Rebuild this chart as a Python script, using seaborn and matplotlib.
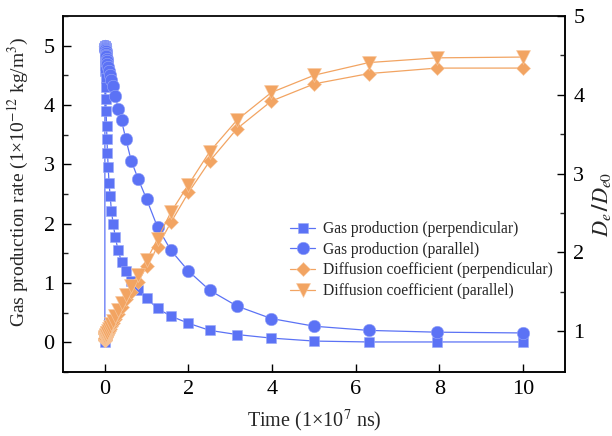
import numpy as np
import pandas as pd
import seaborn as sns
import matplotlib.pyplot as plt

# time (1e7 ns), log spaced 10 per decade plus t = 0
time = [0, 0.001, 0.00126, 0.00158, 0.002, 0.00251, 0.00316, 0.00398, 0.00501, 0.00631, 0.00794,
        0.01, 0.0126, 0.0158, 0.02, 0.0251, 0.0316, 0.0398, 0.0501, 0.0631, 0.0794,
        0.1, 0.126, 0.158, 0.2, 0.251, 0.316, 0.398, 0.501, 0.631, 0.794,
        1.0, 1.26, 1.58, 2.0, 2.51, 3.16, 3.98, 5.01, 6.31, 7.94, 10.0]

gas_perp = [0, 5.0, 4.99, 4.98, 4.97, 4.95, 4.93, 4.9, 4.86, 4.81, 4.75,
            4.67, 4.57, 4.45, 4.3, 4.1, 3.9, 3.65, 3.43, 3.2, 2.95,
            2.69, 2.47, 2.21, 1.99, 1.77, 1.55, 1.36, 1.2, 1.03, 0.88,
            0.74, 0.57, 0.44, 0.32, 0.2, 0.13, 0.07, 0.02, 0.005, 0.005, 0.005]

gas_para = [5.0, 5.0, 5.0, 5.0, 4.99, 4.99, 4.99, 4.98, 4.98, 4.97, 4.96,
            4.95, 4.93, 4.91, 4.88, 4.85, 4.82, 4.78, 4.74, 4.69, 4.64,
            4.58, 4.5, 4.42, 4.33, 4.16, 3.94, 3.74, 3.43, 3.06, 2.76,
            2.41, 1.94, 1.55, 1.2, 0.875, 0.61, 0.4, 0.27, 0.2, 0.17, 0.157]

diff_perp = [0.89, 0.89, 0.89, 0.89, 0.89, 0.89, 0.9, 0.9, 0.9, 0.9, 0.91,
             0.91, 0.91, 0.92, 0.92, 0.93, 0.94, 0.95, 0.96, 0.97, 0.98,
             1.0, 1.03, 1.06, 1.1, 1.15, 1.22, 1.3, 1.4, 1.5, 1.62,
             1.82, 2.07, 2.38, 2.76, 3.16, 3.57, 3.92, 4.14, 4.27, 4.34, 4.34]

diff_para = [0.89, 0.89, 0.89, 0.89, 0.89, 0.89, 0.9, 0.9, 0.9, 0.9, 0.91,
             0.91, 0.92, 0.92, 0.93, 0.94, 0.95, 0.96, 0.97, 0.98, 1.0,
             1.02, 1.05, 1.09, 1.13, 1.19, 1.27, 1.36, 1.46, 1.57, 1.71,
             1.9, 2.17, 2.51, 2.86, 3.28, 3.68, 4.03, 4.25, 4.41, 4.47, 4.48]

labels = ['Gas production (perpendicular)', 'Gas production (parallel)',
          'Diffusion coefficient (perpendicular)', 'Diffusion coefficient (parallel)']

blue = '#5b72f5'
orange = '#f2a462'

sns.set_theme(style='ticks')
plt.rcParams['font.family'] = ['Liberation Serif', 'DejaVu Serif']
plt.rcParams['mathtext.fontset'] = 'stix'

fig = plt.figure(figsize=(6.12, 4.36), dpi=100)
ax = fig.add_axes([0.103, 0.147, 0.82, 0.816])
ax2 = ax.twinx()

df = pd.DataFrame({'time': time, 'gp': gas_perp, 'gpa': gas_para,
                   'dp': diff_perp, 'dpa': diff_para})

common = dict(estimator=None, sort=False, linewidth=0.9, markeredgewidth=0.4)
sns.lineplot(data=df, x='time', y='gp', ax=ax, color=blue, marker='s', markersize=7,
             markeredgecolor='#9aa8f8', label=labels[0], **common)
sns.lineplot(data=df, x='time', y='gpa', ax=ax, color=blue, marker='o', markersize=9,
             markeredgecolor='#9aa8f8', label=labels[1], **common)
sns.lineplot(data=df, x='time', y='dp', ax=ax2, color=orange, marker='D', markersize=7.5,
             markeredgecolor='#f8c9a0', label=labels[2], **common)
sns.lineplot(data=df, x='time', y='dpa', ax=ax2, color=orange, marker='v', markersize=9.5,
             markeredgecolor='#f8c9a0', label=labels[3], **common)

ax.set_xlim(-1, 11)
ax.set_ylim(-0.5, 5.5)
ax2.set_ylim(0.48, 5.0)
ax.set_xticks([0, 2, 4, 6, 8, 10])
ax.set_yticks([0, 1, 2, 3, 4, 5])
ax.set_yticks(np.arange(-0.5, 5.6, 0.5), minor=True)
ax2.set_yticks([1, 2, 3, 4, 5])
ax2.set_yticks(np.arange(1.5, 5.0, 1.0), minor=True)

for a in (ax, ax2):
    a.tick_params(direction='in', which='major', length=6, width=1, labelsize=16,
                  colors='black', pad=6)
    a.tick_params(direction='in', which='minor', length=3.5, width=1)
    for s in a.spines.values():
        s.set_linewidth(1.1)
        s.set_color('black')
ax.spines['top'].set_color('#555555')

ax.set_xlabel('Time (1×10$^{7}$ ns)', fontsize=14.5, labelpad=6)
ax.set_ylabel('Gas production rate (1×10$^{-12}$ kg/m$^{3}$)', fontsize=14)
ax.yaxis.set_label_coords(-0.064, 0.535)
ax2.set_ylabel(r'$\boldsymbol{D_e\,/D_{e0}}$', fontsize=16)
ax2.yaxis.set_label_coords(1.05, 0.47)

h1, l1 = ax.get_legend_handles_labels()
h2, l2 = ax2.get_legend_handles_labels()
ax.get_legend().remove()
ax2.get_legend().remove()
ax2.legend(h1 + h2, l1 + l2, loc='upper left', bbox_to_anchor=(0.453, 0.424),
           frameon=False, fontsize=11.2, handlelength=1.6, handletextpad=0.5,
           labelspacing=0.3, borderpad=0.0, borderaxespad=0.0)

fig.savefig('out.png', dpi=100)
